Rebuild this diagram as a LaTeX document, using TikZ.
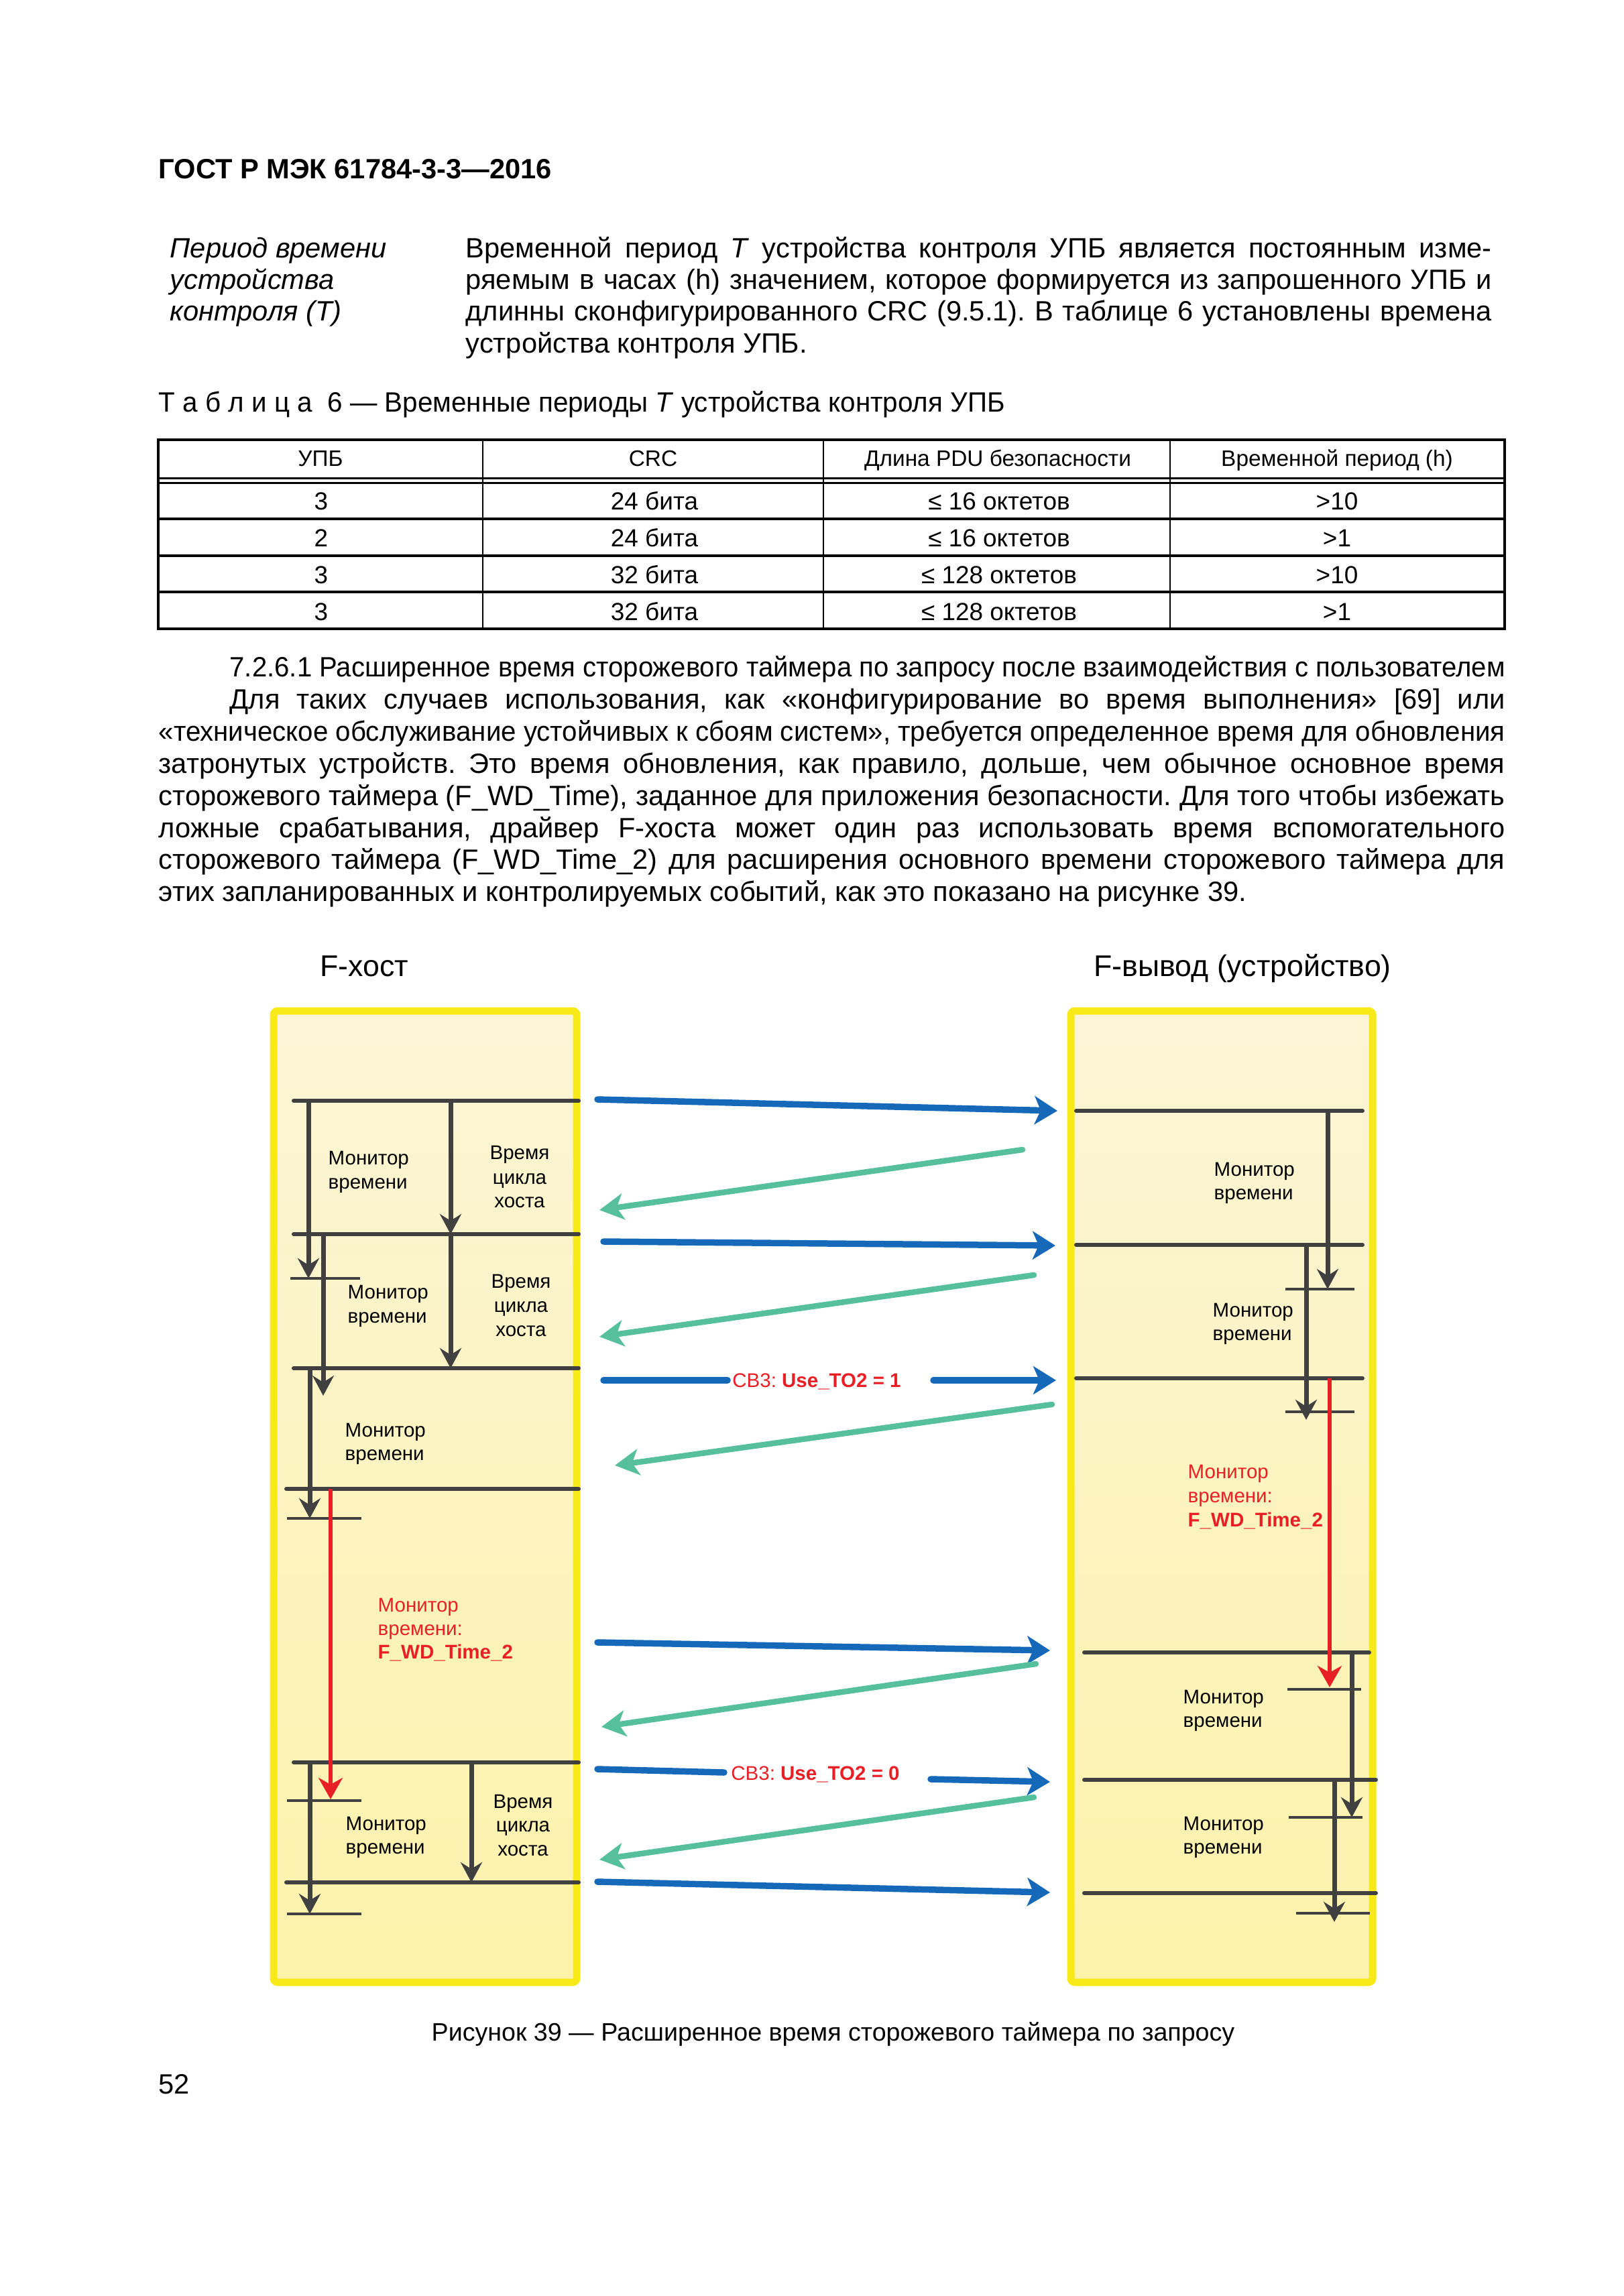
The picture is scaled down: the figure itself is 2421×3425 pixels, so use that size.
\documentclass[tikz,border=0pt]{standalone}
\usepackage{fontspec}
\setmainfont{Liberation Sans}
\usepackage{graphicx}
\usetikzlibrary{arrows.meta}
\frenchspacing
\definecolor{dg}{RGB}{64,64,64}
\definecolor{ybord}{RGB}{247,234,22}
\definecolor{boxtop}{RGB}{251,245,214}
\definecolor{boxbot}{RGB}{253,242,170}
\definecolor{bl}{RGB}{22,104,184}
\definecolor{gr}{RGB}{86,192,156}
\definecolor{rd}{RGB}{232,32,38}
\newcommand\bodyfont{\fontsize{11.85}{14}\selectfont}
\newcommand\capfont{\fontsize{10.7}{13}\selectfont}
\newcommand\thfont{\fontsize{9.5}{11}\selectfont}
\newcommand\tdfont{\fontsize{10.5}{12}\selectfont}
\newcommand\dfont{\fontsize{8.4}{10}\selectfont}
\newcommand\hfont{\fontsize{12.7}{15}\selectfont}
\newlength\jlen
\newcommand\jline[2]{\settowidth\jlen{#2}\ifdim\jlen>#1\relax\resizebox{#1}{\height}{#2}\else\makebox[#1][s]{#2}\fi}
\begin{document}
\begin{tikzpicture}[x=0.1mm,y=-0.1mm,
  txt/.style={anchor=base west,inner sep=0pt,font=\bodyfont},
  thd/.style={anchor=base,inner sep=0pt,font=\thfont},
  tdd/.style={anchor=base,inner sep=0pt,font=\tdfont},
  dtxt/.style={anchor=base west,inner sep=0pt,font=\dfont},
  dctr/.style={anchor=base,inner sep=0pt,font=\dfont},
  thick4/.style={line width=0.4mm},
  ybox/.style={draw=ybord,line width=1.1mm,rounded corners=0.6mm},
  hl/.style={draw=dg,line width=0.6mm,line cap=round},
  tickl/.style={draw=dg,line width=0.4mm},
  varr/.style={draw=dg,line width=0.7mm,-{Stealth[length=3mm,width=3.2mm,inset=1mm]}},
  rarr/.style={draw=rd,line width=0.6mm,-{Stealth[length=3.2mm,width=3.6mm,inset=1mm]}},
  barr/.style={draw=bl,line width=0.95mm,line cap=round,-{Stealth[length=3.4mm,width=4.2mm,inset=0.9mm]}},
  bseg/.style={draw=bl,line width=0.95mm,line cap=round},
  garr/.style={draw=gr,line width=0.85mm,line cap=round,-{Stealth[length=3.6mm,width=3.9mm,inset=1mm]}}
]
\fill[white] (0,0) rectangle (2421,3425);
\useasboundingbox (0,0) rectangle (2421,3425);

% header
\node[txt,font=\bodyfont\bfseries] (hdr) at (236,266) {ГОСТ Р МЭК 61784-3-3—2016};

% definition
\node[txt,font=\bodyfont\itshape] (d1) at (253,384) {Период времени};
\node[txt,font=\bodyfont\itshape] (d2) at (253,431) {устройства};
\node[txt,font=\bodyfont\itshape] (d3) at (253,478) {контроля (T)};
\node[txt] (t1) at (694,384) {\jline{153.0mm}{Временной период \textit{T} устройства контроля УПБ является постоянным изме-}};
\node[txt] (t2) at (694,431) {\jline{153.0mm}{ряемым в часах (h) значением, которое формируется из запрошенного УПБ и}};
\node[txt] (t3) at (694,478) {\jline{153.0mm}{длинны сконфигурированного CRC (9.5.1). В таблице 6 установлены времена}};
\node[txt] (t4) at (694,526) {устройства контроля УПБ.};

% table title
\node[txt] (ttl) at (236,614) {\jline{126.2mm}{Т а б л и ц а \ 6 — Временные периоды \textit{T} устройства контроля УПБ}};

% table
\draw[thick4] (236,656) rectangle (2244,938);
\draw[line width=0.3mm] (236,713) -- (2244,713) (236,720) -- (2244,720);
\draw[thick4] (236,774) -- (2244,774) (236,829) -- (2244,829) (236,883) -- (2244,883);
\draw[line width=0.25mm] (720,656) -- (720,938) (1228,656) -- (1228,938) (1745,656) -- (1745,938);
\node[thd] (h1) at (478,695) {УПБ};
\node[thd] (h2) at (974,695) {CRC};
\node[thd] (h3) at (1488,695) {Длина PDU безопасности};
\node[thd] (h4) at (1994,695) {Временной период (h)};
\foreach \yy/\a/\b/\c/\d [count=\i] in {760/3/24 бита/≤ 16 октетов/>10, 815/2/24 бита/≤ 16 октетов/>1, 870/3/32 бита/≤ 128 октетов/>10, 925/3/32 бита/≤ 128 октетов/>1}{
  \node[tdd] (r\i a) at (479,\yy) {\a};
  \node[tdd] (r\i b) at (976,\yy) {\b};
  \node[tdd] (r\i c) at (1490,\yy) {\c};
  \node[tdd] (r\i d) at (1994,\yy) {\d};
}

% paragraph
\node[txt] (p1) at (342,1009) {\jline{190.2mm}{7.2.6.1 Расширенное время сторожевого таймера по запросу после взаимодействия с пользователем}};
\node[txt] (p2) at (342,1057) {\jline{190.2mm}{Для таких случаев использования, как «конфигурирование во время выполнения» [69] или}};
\node[txt] (p3) at (236,1105) {\jline{200.8mm}{«техническое обслуживание устойчивых к сбоям систем», требуется определенное время для обновления}};
\node[txt] (p4) at (236,1153) {\jline{200.8mm}{затронутых устройств. Это время обновления, как правило, дольше, чем обычное основное время}};
\node[txt] (p5) at (236,1201) {\jline{200.8mm}{сторожевого таймера (F\_WD\_Time), заданное для приложения безопасности. Для того чтобы избежать}};
\node[txt] (p6) at (236,1249) {\jline{200.8mm}{ложные срабатывания, драйвер F-хоста может один раз использовать время вспомогательного}};
\node[txt] (p7) at (236,1296) {\jline{200.8mm}{сторожевого таймера (F\_WD\_Time\_2) для расширения основного времени сторожевого таймера для}};
\node[txt] (p8) at (236,1344) {этих запланированных и контролируемых событий, как это показано на рисунке 39.};

% column titles
\node[txt,font=\hfont] (fh) at (477,1456) {F-хост};
\node[txt,font=\hfont] (fd) at (1631,1456) {F-вывод (устройство)};

% boxes
\shade[top color=boxtop,bottom color=boxbot] (408,1508) rectangle (860,2957);
\draw[ybox] (408,1508) rectangle (860,2957);
\shade[top color=boxtop,bottom color=boxbot] (1597,1508) rectangle (2047,2957);
\draw[ybox] (1597,1508) rectangle (2047,2957);

% left lifeline
\draw[hl] (438,1642) -- (863,1642);
\draw[hl] (438,1841) -- (863,1841);
\draw[hl] (438,2041) -- (863,2041);
\draw[hl] (427,2221) -- (863,2221);
\draw[hl] (438,2629) -- (863,2629);
\draw[hl] (427,2808) -- (863,2808);
\draw[tickl] (433,1907) -- (537,1907);
\draw[tickl] (428,2265) -- (539,2265);
\draw[tickl] (428,2686) -- (539,2686);
\draw[tickl] (428,2855) -- (539,2855);
\draw[varr] (460,1642) -- (460,1907);
\draw[varr] (672,1642) -- (672,1841);
\draw[varr] (482,1841) -- (482,2082);
\draw[varr] (672,1841) -- (672,2041);
\draw[varr] (462,2041) -- (462,2265);
\draw[rarr] (493,2221) -- (493,2684);
\draw[varr] (462,2629) -- (462,2855);
\draw[varr] (703,2629) -- (703,2808);

% right lifeline
\draw[hl] (1605,1657) -- (2032,1657);
\draw[hl] (1605,1857) -- (2032,1857);
\draw[hl] (1605,2056) -- (2032,2056);
\draw[hl] (1617,2465) -- (2042,2465);
\draw[hl] (1617,2655) -- (2052,2655);
\draw[hl] (1617,2824) -- (2052,2824);
\draw[tickl] (1917,1923) -- (2020,1923);
\draw[tickl] (1917,2106) -- (2020,2106);
\draw[tickl] (1920,2520) -- (2030,2520);
\draw[tickl] (1922,2711) -- (2032,2711);
\draw[tickl] (1933,2854) -- (2043,2854);
\draw[varr] (1980,1657) -- (1980,1923);
\draw[varr] (1948,1857) -- (1948,2118);
\draw[rarr] (1983,2056) -- (1983,2517);
\draw[varr] (2016,2465) -- (2016,2711);
\draw[varr] (1990,2655) -- (1990,2867);

% messages
\draw[barr] (891,1640) -- (1577,1657);
\draw[garr] (1525,1715) -- (894,1805);
\draw[barr] (900,1852) -- (1574,1858);
\draw[garr] (1542,1902) -- (894,1994);
\draw[bseg] (900,2059) -- (1085,2059);
\draw[barr] (1392,2059) -- (1575,2059);
\node[anchor=base,inner sep=0pt,font=\dfont,text=rd] (cb1) at (1218,2069) {CB3: \textbf{Use\_TO2 = 1}};
\draw[garr] (1569,2095) -- (917,2186);
\draw[barr] (891,2450) -- (1566,2462);
\draw[garr] (1545,2482) -- (897,2576);
\draw[bseg] (891,2639) -- (1080,2644);
\draw[barr] (1388,2654) -- (1566,2658);
\node[anchor=base,inner sep=0pt,font=\dfont,text=rd] (cb0) at (1216,2655) {CB3: \textbf{Use\_TO2 = 0}};
\draw[garr] (1542,2681) -- (894,2774);
\draw[barr] (891,2807) -- (1566,2823);

% left texts
\node[dtxt] (lm1a) at (489,1737) {Монитор};
\node[dtxt] (lm1b) at (489,1773) {времени};
\node[dctr] (lc1a) at (775,1729) {Время};
\node[dctr] (lc1b) at (775,1766) {цикла};
\node[dctr] (lc1c) at (775,1801) {хоста};
\node[dtxt] (lm2a) at (518,1937) {Монитор};
\node[dtxt] (lm2b) at (518,1973) {времени};
\node[dctr] (lc2a) at (777,1921) {Время};
\node[dctr] (lc2b) at (777,1957) {цикла};
\node[dctr] (lc2c) at (777,1993) {хоста};
\node[dtxt] (lm3a) at (514,2143) {Монитор};
\node[dtxt] (lm3b) at (514,2178) {времени};
\node[dtxt,text=rd] (lr1) at (563,2404) {Монитор};
\node[dtxt,text=rd] (lr2) at (563,2439) {времени:};
\node[dtxt,text=rd,font=\dfont\bfseries] (lr3) at (563,2474) {F\_WD\_Time\_2};
\node[dtxt] (lm4a) at (515,2730) {Монитор};
\node[dtxt] (lm4b) at (515,2765) {времени};
\node[dctr] (lc3a) at (780,2697) {Время};
\node[dctr] (lc3b) at (780,2732) {цикла};
\node[dctr] (lc3c) at (780,2768) {хоста};

% right texts
\node[dtxt] (rm1a) at (1810,1754) {Монитор};
\node[dtxt] (rm1b) at (1810,1789) {времени};
\node[dtxt] (rm2a) at (1808,1964) {Монитор};
\node[dtxt] (rm2b) at (1808,1999) {времени};
\node[dtxt,text=rd] (rr1) at (1771,2205) {Монитор};
\node[dtxt,text=rd] (rr2) at (1771,2241) {времени:};
\node[dtxt,text=rd,font=\dfont\bfseries] (rr3) at (1771,2277) {F\_WD\_Time\_2};
\node[dtxt] (rm3a) at (1764,2541) {Монитор};
\node[dtxt] (rm3b) at (1764,2576) {времени};
\node[dtxt] (rm4a) at (1764,2730) {Монитор};
\node[dtxt] (rm4b) at (1764,2765) {времени};

% caption and page number
\node[txt,font=\capfont] (cap) at (643,3044) {Рисунок 39 — Расширенное время сторожевого таймера по запросу};
\node[txt] (pg) at (236,3123) {52};
\end{tikzpicture}
\end{document}
